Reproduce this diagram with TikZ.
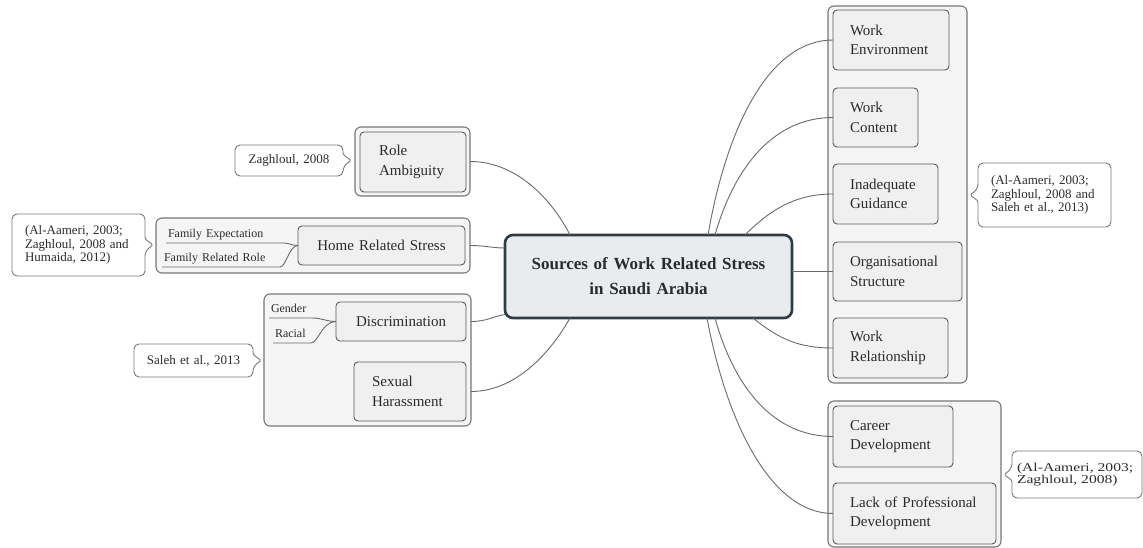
\documentclass[tikz,border=0pt]{standalone}
\usepackage{fontspec}
\setmainfont{Liberation Serif}
\newfontfamily\widefont{Liberation Serif}[FakeStretch=1.3]
\usetikzlibrary{calc}

\definecolor{inkc}{HTML}{2B2B2B}
\definecolor{boxfill}{HTML}{F0F0F0}
\definecolor{boxline}{HTML}{5A5A5A}
\definecolor{grpfill}{HTML}{F5F5F5}
\definecolor{grpline}{HTML}{767676}
\definecolor{rootfill}{HTML}{E9ECEF}
\definecolor{rootline}{HTML}{2F3B46}
\definecolor{connc}{HTML}{6A6A6A}

\tikzset{
  rootbox/.style={draw=rootline, line width=2.6pt, fill=rootfill, rounded corners=8pt,
    inner xsep=18pt, inner ysep=3pt, outer sep=0pt, align=center, text=inkc,
    font=\fontsize{17}{25}\selectfont\bfseries},
  topic/.style={draw=boxline, line width=0.9pt, fill=boxfill, rounded corners=4pt,
    inner xsep=18pt, inner ysep=3pt, outer sep=0pt, align=left, text=inkc,
    font=\fontsize{15}{19.5}\selectfont},
  grp/.style={draw=grpline, line width=1.1pt, fill=grpfill, rounded corners=6pt,
    inner sep=0pt, outer sep=0pt},
  sublabel/.style={inner xsep=2pt, inner ysep=3pt, outer sep=0pt, anchor=south west,
    text height=9pt, text depth=3pt, align=left, text=inkc,
    font=\fontsize{12}{14}\selectfont},
  notetext/.style={inner xsep=13pt, inner ysep=2pt, outer sep=0pt, align=left, text=inkc,
    font=\fontsize{13}{13.5}\selectfont},
  noteline/.style={draw=grpline, line width=0.9pt},
  conn/.style={draw=connc, line width=0.9pt},
}

\begin{document}
\begin{tikzpicture}[x=1pt, y=-1pt]
\useasboundingbox (0,0) rectangle (1143,548);

% ---------- central topic ----------
\node[rootbox, minimum width=287pt, minimum height=83pt, text width=251pt] (root) at (648.5,276.5)
  {Sources of Work Related Stress\\in Saudi Arabia};

% ---------- left branch: role ambiguity ----------
\node[grp, minimum width=115pt, minimum height=69pt] (raG) at (412.5,161.5) {};
\node[topic, minimum width=106pt, minimum height=60pt, text width=68pt, inner xsep=19pt] (ra) at (413,162)
  {Role\\Ambiguity};

% ---------- left branch: home related stress ----------
\node[grp, minimum width=314pt, minimum height=55pt] (hG) at (313,245.5) {};
\node[topic, minimum width=167pt, minimum height=39pt, text width=141pt, inner xsep=13pt, align=center] (hrs) at (381.5,245.5)
  {Home Related Stress};
\node[sublabel, text width=113pt] (fe) at (166,243) {Family Expectation};
\node[sublabel, text width=114pt] (frr) at (162,267) {Family Related Role};

% ---------- left branch: discrimination / harassment ----------
\node[grp, minimum width=207pt, minimum height=132pt] (dG) at (367.5,360) {};
\node[topic, minimum width=130pt, minimum height=39pt, text width=104pt, inner xsep=13pt, align=center] (disc) at (401,321.5)
  {Discrimination};
\node[topic, minimum width=112pt, minimum height=59pt, text width=76pt, inner xsep=18pt] (sex) at (410,391.5)
  {Sexual\\Harassment};
\node[sublabel, text width=39pt] (gen) at (269,318) {Gender};
\node[sublabel, text width=34pt] (rac) at (273,343) {Racial};

% ---------- right branch: work factors ----------
\node[grp, minimum width=139pt, minimum height=377pt] (wG) at (897.5,194.5) {};
\node[topic, minimum width=116pt, minimum height=60pt, text width=82pt, inner xsep=17pt] (we) at (891,40)
  {Work\\Environment};
\node[topic, minimum width=85pt, minimum height=59pt, text width=51pt, inner xsep=17pt] (wc) at (875.5,117.5)
  {Work\\Content};
\node[topic, minimum width=105pt, minimum height=60pt, text width=71pt, inner xsep=17pt] (ig) at (885.5,194)
  {Inadequate\\Guidance};
\node[topic, minimum width=129pt, minimum height=59pt, text width=95pt, inner xsep=17pt] (os) at (897.5,271.5)
  {Organisational\\Structure};
\node[topic, minimum width=115pt, minimum height=60pt, text width=81pt, inner xsep=17pt] (wr) at (890.5,348)
  {Work\\Relationship};

% ---------- right branch: development ----------
\node[grp, minimum width=173pt, minimum height=146pt] (cG) at (914.5,474) {};
\node[topic, minimum width=120pt, minimum height=61pt, text width=86pt, inner xsep=17pt] (cd) at (893,436.5)
  {Career\\Development};
\node[topic, minimum width=163pt, minimum height=61pt, text width=129pt, inner xsep=17pt] (lpd) at (914.5,513.5)
  {Lack of Professional\\Development};

% ---------- reference notes ----------
\node[notetext, minimum width=108pt, minimum height=31pt, text width=92pt, inner xsep=8pt, align=center] (nRA) at (289,160.5)
  {Zaghloul, 2008};
\node[notetext, minimum width=133pt, minimum height=62pt, text width=107pt, inner xsep=13pt] (nHS) at (78.5,245)
  {(Al-Aameri, 2003;\\Zaghloul, 2008 and\\Humaida, 2012)};
\node[notetext, minimum width=119pt, minimum height=33pt, text width=103pt, inner xsep=8pt, align=center] (nDI) at (193.5,360.5)
  {Saleh et al., 2013};
\node[notetext, minimum width=133pt, minimum height=64pt, text width=107pt, inner xsep=13pt] (nWF) at (1044.5,195)
  {(Al-Aameri, 2003;\\Zaghloul, 2008 and\\Saleh et al., 2013)};
\node[notetext, minimum width=130pt, minimum height=47pt, text width=120pt, inner xsep=5pt,
  font=\widefont\fontsize{12}{12}\selectfont] (nCD) at (1077,474.5)
  {(Al-Aameri, 2003;\\Zaghloul, 2008)};

% note outlines with pointers towards their groups
\foreach \n in {nRA,nHS,nDI}{
  \draw[noteline] ([yshift=6pt]\n.east) [rounded corners=5pt] -- (\n.north east) -- (\n.north west)
    -- (\n.south west) -- (\n.south east) -- ([yshift=-6pt]\n.east)
    [rounded corners=1.5pt] -- ([xshift=8pt]\n.east) -- cycle;
}
\foreach \n in {nWF,nCD}{
  \draw[noteline] ([yshift=-6pt]\n.west) [rounded corners=5pt] -- (\n.south west) -- (\n.south east)
    -- (\n.north east) -- (\n.north west) -- ([yshift=6pt]\n.west)
    [rounded corners=1.5pt] -- ([xshift=-8pt]\n.west) -- cycle;
}

% ---------- sub-labels tied to their topics ----------
\draw[conn] (fe.south west) -- (fe.south east) .. controls (290,243) and (291,245.5) .. (hrs.west);
\draw[conn] (frr.south west) -- (frr.south east) .. controls (286,267) and (289,245.5) .. (hrs.west);
\draw[conn] (gen.south west) -- (gen.south east) .. controls (322,318) and (326,321.5) .. (disc.west);
\draw[conn] (rac.south west) -- (rac.south east) .. controls (318,343) and (322,321.5) .. (disc.west);

% ---------- connectors from the central topic ----------
\draw[conn] (raG.east) .. controls (520,161.5) and (555,205) .. ([xshift=65pt]root.north west);
\draw[conn] (hG.east) .. controls (485,245.5) and (492,248) .. ([yshift=28.5pt]root.west);
\draw[conn] (dG.east |- disc.east) .. controls (487,321.5) and (494,316) .. ([yshift=-38pt]root.west);
\draw[conn] (dG.east |- sex.east) .. controls (520,391.5) and (555,345) .. ([xshift=65pt]root.south west);

\draw[conn] ([xshift=203pt]root.north west) .. controls (727,125) and (770,40) .. (we.west);
\draw[conn] ([xshift=210pt]root.north west) .. controls (735,165) and (775,117.5) .. (wc.west);
\draw[conn] ([xshift=240pt]root.north west) .. controls (770,210) and (795,194) .. (ig.west);
\draw[conn] (os.west -| root.east) -- (os.west);
\draw[conn] ([xshift=248pt]root.south west) .. controls (780,340) and (800,348) .. (wr.west);
\draw[conn] ([xshift=210pt]root.south west) .. controls (735,390) and (775,436.5) .. (cd.west);
\draw[conn] ([xshift=202pt]root.south west) .. controls (726,420) and (770,513.5) .. (lpd.west);
\end{tikzpicture}
\end{document}
